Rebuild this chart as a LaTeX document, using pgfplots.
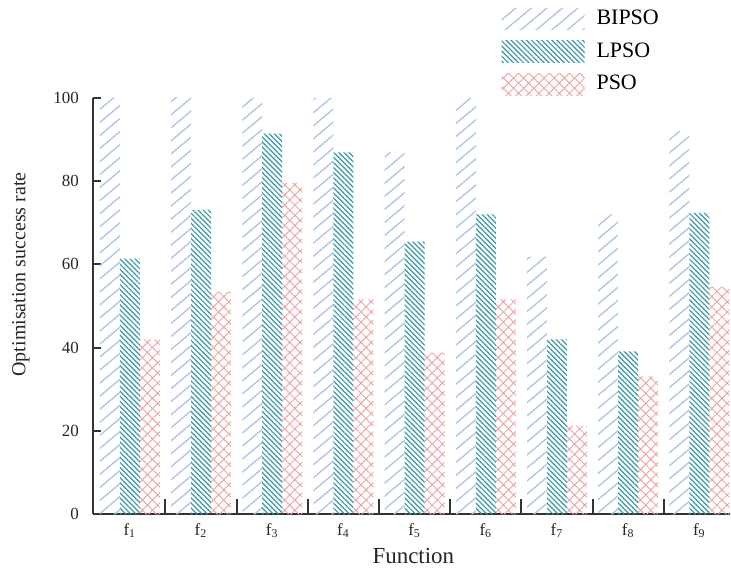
\documentclass[border=0pt]{standalone}
\usepackage{fontspec}
\setmainfont{Liberation Serif}
\usepackage{pgfplots}
\pgfplotsset{compat=1.18}
\usetikzlibrary{patterns.meta}
\definecolor{cB}{HTML}{B0C6E6}
\definecolor{cL}{HTML}{3796A6}
\definecolor{cP}{HTML}{EEA8A8}
\definecolor{axc}{HTML}{333333}
\begin{document}
\begin{tikzpicture}
\begin{axis}[
  scale only axis,
  width=319pt, height=208.5pt,
  xmin=-0.519, xmax=8.43,
  ymin=0, ymax=100,
  ybar=0pt, bar width=10pt,
  axis lines*=left,
  axis line style={line width=1pt, color=axc},
  tick style={line width=1pt, color=axc},
  tick align=inside,
  ytick={0,20,40,60,80,100},
  major tick length=4pt,
  xtick={0,...,8},
  xticklabels={f\textsubscript{1},f\textsubscript{2},f\textsubscript{3},f\textsubscript{4},f\textsubscript{5},f\textsubscript{6},f\textsubscript{7},f\textsubscript{8},f\textsubscript{9}},
  major x tick style={draw=none},
  minor xtick={0.5,1.5,...,7.5},
  minor tick length=7.5pt,
  minor x tick style={line width=1pt, color=axc},
  /pgf/number format/assume math mode=true,
  tick label style={font=\fontsize{8.5}{10}\selectfont, color=black!85},
  yticklabel style={xshift=-3.5pt},
  xticklabel style={yshift=-1pt},
  ylabel={Optimisation success rate},
  xlabel={Function},
  every axis y label/.style={at={(axis description cs:-0.113,0.576)}, rotate=90, anchor=center, font=\fontsize{10}{12}\selectfont, color=black!85},
  every axis x label/.style={at={(axis description cs:0.503,-0.101)}, anchor=center, font=\fontsize{11.5}{13}\selectfont, color=black!85},
  legend style={at={(axis description cs:0.641,1.221)}, anchor=north west, draw=none, fill=none,
    font=\fontsize{11}{13}\selectfont, row sep=3.5pt, inner sep=0pt,
    /tikz/every odd column/.append style={column sep=4pt}},
  legend cell align=left,
  legend image code/.code={\path[#1] (0pt,-5.5pt) rectangle (41.5pt,5.5pt);},
]
\addplot[draw=none, pattern={Lines[angle=40,distance=5pt,line width=0.7pt]}, pattern color=cB]
  coordinates {(0,100) (1,100.5) (2,100) (3,100) (4,86.9) (5,100) (6,61.9) (7,72) (8,92.1)};
\addplot[draw=none, pattern={Lines[angle=-45,distance=1.8pt,line width=0.6pt]}, pattern color=cL]
  coordinates {(0,61.4) (1,73.1) (2,91.4) (3,86.9) (4,65.5) (5,72) (6,42) (7,39.1) (8,72.4)};
\addplot[draw=none, pattern={Hatch[angle=45,distance=3.6pt,line width=0.5pt]}, pattern color=cP]
  coordinates {(0,42) (1,53.5) (2,79.6) (3,51.6) (4,38.8) (5,51.6) (6,21.3) (7,33.1) (8,54.7)};
\legend{BIPSO,LPSO,PSO}
\end{axis}
\path[use as bounding box] ([shift={(-46.5pt,-28.5pt)}]current axis.south west) rectangle ([shift={(319pt,257.5pt)}]current axis.south west);
\end{tikzpicture}
\end{document}
